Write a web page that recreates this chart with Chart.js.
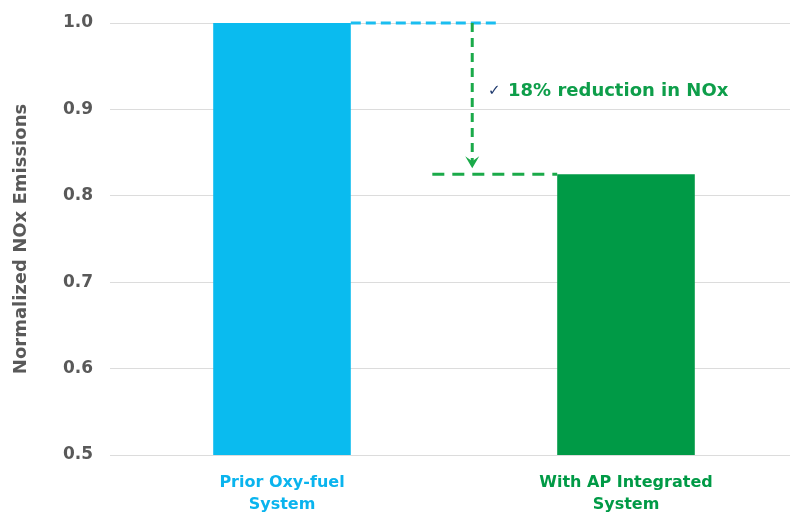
<!DOCTYPE html>
<html>
<head>
<meta charset="utf-8">
<title>Normalized NOx Emissions</title>
<script src="https://cdn.jsdelivr.net/npm/chart.js@4.4.1/dist/chart.umd.min.js"></script>
<style>
  html, body { margin: 0; padding: 0; background: #ffffff; overflow: hidden; }
  /* the reference plot runs a little past the right edge, so the canvas is cropped */
  #wrap { width: 790px; height: 514px; overflow: hidden; }
</style>
</head>
<body>
<div id="wrap"><canvas id="noxChart" width="798" height="514"></canvas></div>
<script>
// Chart data
const categories = [["Prior Oxy-fuel", "System"], ["With AP Integrated", "System"]];
const emissions = [1.0, 0.825];
const barColors = ["#0ABBEF", "#009A46"];
const labelColors = ["#0AB4EE", "#009A46"];
const yTicks = [0.5, 0.6, 0.7, 0.8, 0.9, 1.0];
const noteText = "18% reduction in NOx";

// annotation positions, in category units (0 = first bar, 1 = second bar)
const cyanLineEnd = 0.634;
const arrowX = 0.553;
const greenLineStart = 0.437;
const noteX = 0.599;
const noteY = 0.921;

const FONT = "'DejaVu Sans', Verdana, sans-serif";

// draws the dashed guide lines, arrow and text
const reductionNote = {
  id: "reductionNote",
  afterDatasetsDraw(chart) {
    const { ctx } = chart;
    const xs = chart.scales.x;
    const ys = chart.scales.y;
    const meta = chart.getDatasetMeta(0);
    const x0 = xs.getPixelForValue(0);
    const unit = xs.getPixelForValue(1) - x0;
    const atX = (f) => x0 + f * unit;
    const yTop = ys.getPixelForValue(emissions[0]);
    const yLow = ys.getPixelForValue(emissions[1]);
    const bar1 = meta.data[0];
    const bar2 = meta.data[1];

    ctx.save();
    ctx.lineWidth = 3;

    // cyan line from the top of the first bar
    ctx.strokeStyle = "#1ABDF0";
    ctx.setLineDash([10, 5]);
    ctx.beginPath();
    ctx.moveTo(bar1.x + bar1.width / 2, yTop);
    ctx.lineTo(atX(cyanLineEnd), yTop);
    ctx.stroke();

    // green vertical drop
    ctx.strokeStyle = "#1BAA4A";
    ctx.setLineDash([9, 6]);
    ctx.beginPath();
    ctx.moveTo(atX(arrowX), yTop);
    ctx.lineTo(atX(arrowX), yLow - 12);
    ctx.stroke();

    // green line towards the second bar
    ctx.setLineDash([12, 8]);
    ctx.beginPath();
    ctx.moveTo(atX(greenLineStart), yLow);
    ctx.lineTo(bar2.x - bar2.width / 2, yLow);
    ctx.stroke();

    // arrow head
    ctx.setLineDash([]);
    ctx.fillStyle = "#1BAA4A";
    const ax = atX(arrowX);
    const tip = yLow - 6;
    ctx.beginPath();
    ctx.moveTo(ax, tip);
    ctx.lineTo(ax - 7, tip - 12);
    ctx.lineTo(ax, tip - 7);
    ctx.lineTo(ax + 7, tip - 12);
    ctx.closePath();
    ctx.fill();

    // check mark and note
    const ty = ys.getPixelForValue(noteY);
    ctx.textBaseline = "middle";
    ctx.textAlign = "left";
    ctx.fillStyle = "#1F3A6E";
    ctx.font = "15px " + FONT;
    ctx.fillText("\u2713", atX(noteX), ty);
    ctx.fillStyle = "#0E9E4A";
    ctx.font = "bold 18px " + FONT;
    ctx.fillText(noteText, atX(noteX) + 20, ty);
    ctx.restore();
  }
};

new Chart(document.getElementById("noxChart"), {
  type: "bar",
  data: {
    labels: categories,
    datasets: [{
      label: "Normalized NOx Emissions",
      data: emissions,
      backgroundColor: barColors,
      borderWidth: 0,
      categoryPercentage: 1.0,
      barPercentage: 0.4
    }]
  },
  options: {
    responsive: false,
    animation: false,
    layout: { padding: { top: 0, left: 11, right: 0, bottom: 0 } },
    plugins: {
      legend: { display: false },
      tooltip: { enabled: false }
    },
    scales: {
      x: {
        afterFit(scale) {
          scale.height = 59;
        },
        grid: { display: false, drawTicks: false },
        border: { display: false },
        ticks: {
          color: labelColors,
          padding: 17,
          maxRotation: 0,
          font: { family: FONT, size: 16, weight: "bold", lineHeight: 1.35 }
        }
      },
      y: {
        min: 0.5,
        max: 1.0,
        afterBuildTicks(scale) {
          scale.ticks = yTicks.map((v) => ({ value: v }));
        },
        afterFit(scale) {
          scale.width = 99;
          scale.paddingTop = 23;
        },
        grid: { color: "#DCDCDC", lineWidth: 1, drawTicks: false },
        border: { display: false },
        ticks: {
          color: "#595959",
          padding: 17,
          font: { family: FONT, size: 17, weight: "bold" },
          callback: (v) => Number(v).toFixed(1)
        },
        title: {
          display: true,
          text: "Normalized NOx Emissions",
          color: "#595959",
          padding: { top: 0, bottom: 4 },
          font: { family: FONT, size: 18, weight: "bold" }
        }
      }
    }
  },
  plugins: [reductionNote]
});
</script>
</body>
</html>
